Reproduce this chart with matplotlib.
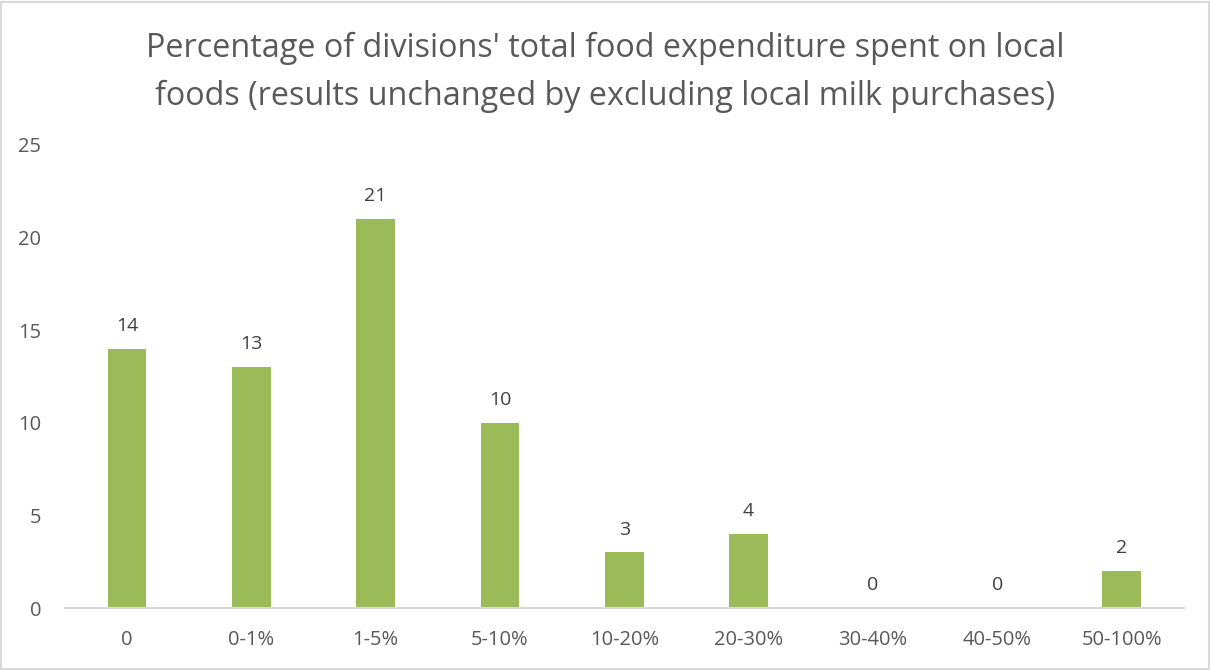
import matplotlib
matplotlib.use("Agg")
import matplotlib.pyplot as plt
from matplotlib.patches import Rectangle

categories = ["0", "0-1%", "1-5%", "5-10%", "10-20%", "20-30%", "30-40%", "40-50%", "50-100%"]
counts = [14, 13, 21, 10, 3, 4, 0, 0, 2]
title_text = ("Percentage of divisions' total food expenditure spent on local\n"
              "foods (results unchanged by excluding local milk purchases)")

plt.rcParams["font.family"] = ["Open Sans", "DejaVu Sans"]

fig = plt.figure(figsize=(12.11, 6.70), dpi=100)
ax = fig.add_axes([0.0535, 0.0925, 0.924, 0.6911])

x = list(range(len(categories)))
ax.bar(x, counts, width=0.31, color="#9BBB59", zorder=2)

for xi, v in zip(x, counts):
    ax.annotate(str(v), (xi, v), xytext=(0, 10), textcoords="offset points",
                ha="center", va="bottom", fontsize=14, color="#404040")

ax.set_xlim(-0.5, len(categories) - 0.5)
ax.set_ylim(0, 25)
ax.set_yticks([0, 5, 10, 15, 20, 25])
ax.set_xticks(x)
ax.set_xticklabels(categories)
ax.tick_params(axis="both", length=0, labelsize=14.5, labelcolor="#595959")
ax.tick_params(axis="x", pad=16)
ax.tick_params(axis="y", pad=17)

for side in ["top", "right", "left"]:
    ax.spines[side].set_visible(False)
ax.spines["bottom"].set_color("#D9D9D9")
ax.spines["bottom"].set_linewidth(1.5)

fig.text(0.5, 0.952, title_text, ha="center", va="top", fontsize=23.3,
         color="#595959", linespacing=1.55)

# thin frame around the chart area
fig.patches.append(Rectangle((0.001, 0.002), 0.997, 0.995, transform=fig.transFigure,
                             fill=False, edgecolor="#D9D9D9", linewidth=1.5))

fig.savefig("out.png", dpi=100)
